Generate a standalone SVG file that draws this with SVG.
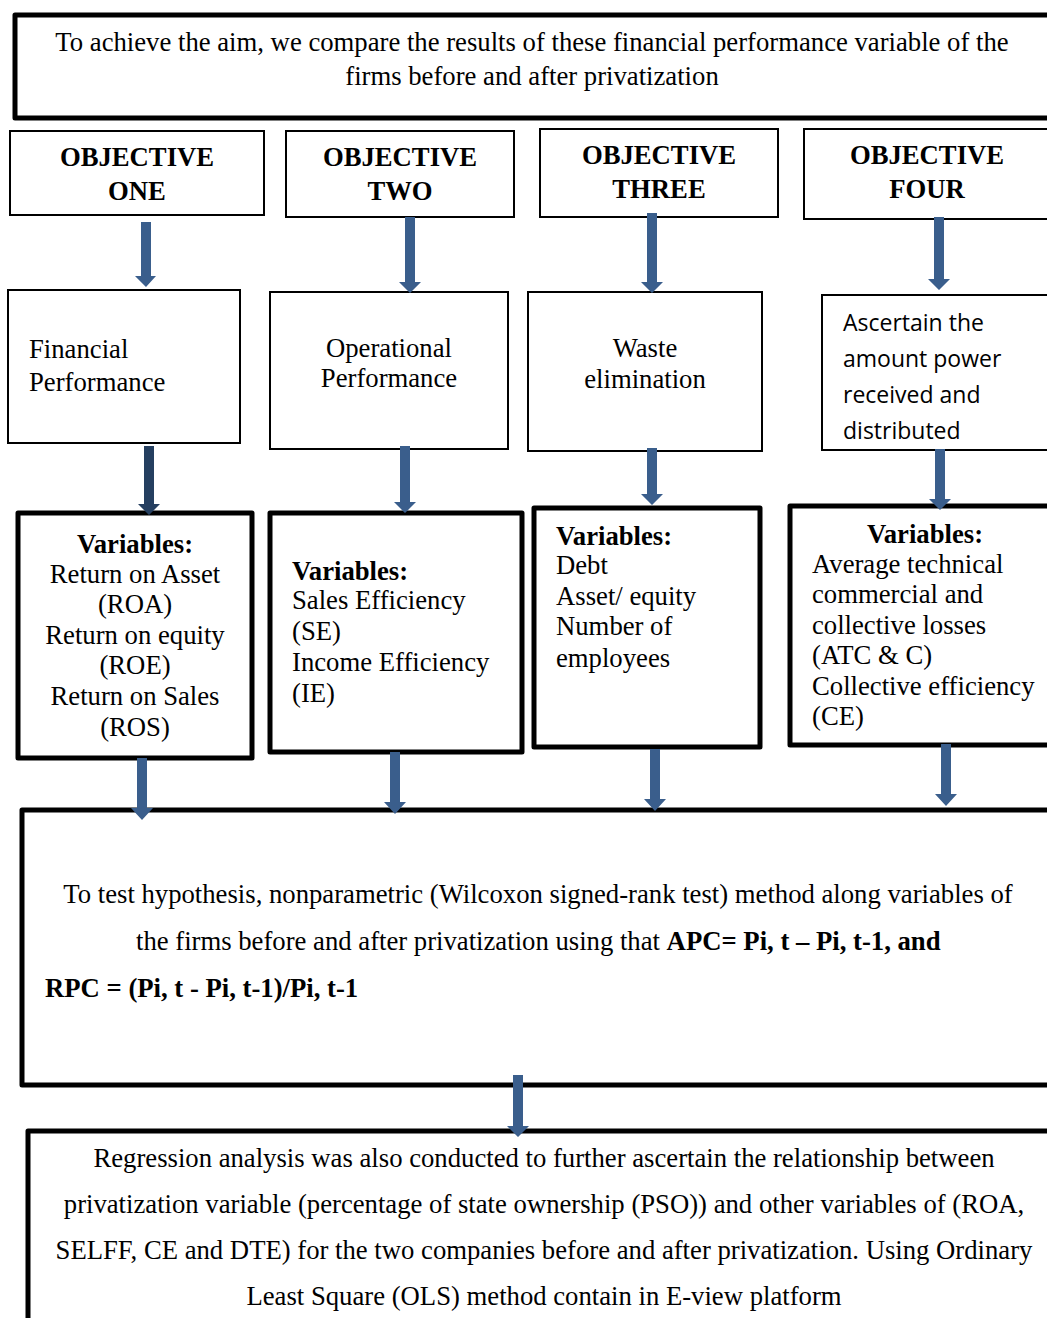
<svg xmlns="http://www.w3.org/2000/svg" width="1047" height="1318" viewBox="0 0 1047 1318">
<style>
  .bg { fill: #ffffff; }
  .thin { fill: #ffffff; stroke: #000000; stroke-width: 2; }
  .thick { fill: #ffffff; stroke: #000000; stroke-width: 5; stroke-linejoin: round; }
  .t { font-family: "Liberation Serif", "Times New Roman", serif; font-size: 26.7px; fill: #000000; }
  .b { font-weight: bold; }
  .s { font-family: "Open Sans", "Noto Sans", "Liberation Sans", sans-serif; font-size: 23px; fill: #000000; }
  .mid { text-anchor: middle; }
  .arrow { fill: #3A5E8C; }
  .arrowDark { fill: #253F60; }
</style>
<rect class="bg" x="0" y="0" width="1047" height="1318"/>

<g id="aim">
  <rect class="thick" x="15" y="15" width="1045" height="103"/>
  <text class="t mid" x="532" y="51">To achieve the aim, we compare the results of these financial performance variable of the</text>
  <text class="t mid" x="532" y="85">firms before and after privatization</text>
</g>

<g id="obj1">
  <rect class="thin" x="10" y="131" width="254" height="84"/>
  <text class="t b mid" x="137" y="166">OBJECTIVE</text>
  <text class="t b mid" x="137" y="200">ONE</text>
</g>
<g id="obj2">
  <rect class="thin" x="286" y="131" width="228" height="86"/>
  <text class="t b mid" x="400" y="166">OBJECTIVE</text>
  <text class="t b mid" x="400" y="200">TWO</text>
</g>
<g id="obj3">
  <rect class="thin" x="540" y="129" width="238" height="88"/>
  <text class="t b mid" x="659" y="164">OBJECTIVE</text>
  <text class="t b mid" x="659" y="198">THREE</text>
</g>
<g id="obj4">
  <rect class="thin" x="804" y="129" width="250" height="90"/>
  <text class="t b mid" x="927" y="164">OBJECTIVE</text>
  <text class="t b mid" x="927" y="198">FOUR</text>
</g>

<g id="financial">
  <rect class="thin" x="8" y="290" width="232" height="153"/>
  <text class="t" x="29" y="358">Financial</text>
  <text class="t" x="29" y="391">Performance</text>
</g>
<g id="operational">
  <rect class="thin" x="270" y="292" width="238" height="157"/>
  <text class="t mid" x="389" y="357">Operational</text>
  <text class="t mid" x="389" y="387">Performance</text>
</g>
<g id="waste">
  <rect class="thin" x="528" y="292" width="234" height="159"/>
  <text class="t mid" x="645" y="357">Waste</text>
  <text class="t mid" x="645" y="388">elimination</text>
</g>
<g id="ascertain">
  <rect class="thin" x="822" y="295" width="232" height="155"/>
  <text class="s" x="843" y="331">Ascertain the</text>
  <text class="s" x="843" y="367">amount power</text>
  <text class="s" x="843" y="403">received and</text>
  <text class="s" x="843" y="439">distributed</text>
</g>

<g id="vars1">
  <rect class="thick" x="18" y="513" width="234" height="245"/>
  <text class="t b mid" x="135" y="553">Variables:</text>
  <text class="t mid" x="135" y="583">Return on Asset</text>
  <text class="t mid" x="135" y="613">(ROA)</text>
  <text class="t mid" x="135" y="644">Return on equity</text>
  <text class="t mid" x="135" y="674">(ROE)</text>
  <text class="t mid" x="135" y="705">Return on Sales</text>
  <text class="t mid" x="135" y="736">(ROS)</text>
</g>
<g id="vars2">
  <rect class="thick" x="270" y="513" width="252" height="239"/>
  <text class="t b" x="292" y="580">Variables:</text>
  <text class="t" x="292" y="609">Sales Efficiency</text>
  <text class="t" x="292" y="640">(SE)</text>
  <text class="t" x="292" y="671">Income Efficiency</text>
  <text class="t" x="292" y="702">(IE)</text>
</g>
<g id="vars3">
  <rect class="thick" x="534" y="508" width="226" height="239"/>
  <text class="t b" x="556" y="545">Variables:</text>
  <text class="t" x="556" y="574">Debt</text>
  <text class="t" x="556" y="605">Asset/ equity</text>
  <text class="t" x="556" y="635">Number of</text>
  <text class="t" x="556" y="667">employees</text>
</g>
<g id="vars4">
  <rect class="thick" x="790" y="506" width="265" height="239"/>
  <text class="t b mid" x="925" y="543">Variables:</text>
  <text class="t" x="812" y="573">Average technical</text>
  <text class="t" x="812" y="603">commercial and</text>
  <text class="t" x="812" y="634">collective losses</text>
  <text class="t" x="812" y="664">(ATC &amp; C)</text>
  <text class="t" x="812" y="695">Collective efficiency</text>
  <text class="t" x="812" y="725">(CE)</text>
</g>

<g id="hypothesis">
  <rect class="thick" x="22" y="810" width="1035" height="275"/>
  <text class="t mid" x="538" y="903">To test hypothesis, nonparametric (Wilcoxon signed-rank test) method along variables of</text>
  <text class="t" x="136" y="950">the firms before and after privatization using that <tspan class="b">APC= Pi, t – Pi, t-1, and</tspan></text>
  <text class="t b" x="45" y="997">RPC = (Pi, t - Pi, t-1)/Pi, t-1</text>
</g>

<g id="regression">
  <rect class="thick" x="28" y="1131" width="1030" height="200"/>
  <text class="t mid" x="544" y="1167">Regression analysis was also conducted to further ascertain the relationship between</text>
  <text class="t mid" x="544" y="1213">privatization variable (percentage of state ownership (PSO)) and other variables of (ROA,</text>
  <text class="t mid" x="544" y="1259">SELFF, CE and DTE) for the two companies before and after privatization. Using Ordinary</text>
  <text class="t mid" x="544" y="1305">Least Square (OLS) method contain in E-view platform</text>
</g>

<g id="connectors">
  <polygon class="arrow" points="141,222 151,222 151,276 156,276 146,287 135,276 141,276"/>
  <polygon class="arrow" points="405,217 415,217 415,282 421,282 410,293 399,282 405,282"/>
  <polygon class="arrow" points="647,213 657,213 657,282 663,282 652,293 641,282 647,282"/>
  <polygon class="arrow" points="934,217 944,217 944,279 950,279 939,290 928,279 934,279"/>

  <polygon class="arrowDark" points="144,446 154,446 154,504 160,504 149,515 138,504 144,504"/>
  <polygon class="arrow" points="400,446 410,446 410,502 416,502 405,513 394,502 400,502"/>
  <polygon class="arrow" points="647,448 657,448 657,494 663,494 652,505 641,494 647,494"/>
  <polygon class="arrow" points="935,449 945,449 945,499 951,499 940,510 929,499 935,499"/>

  <polygon class="arrow" points="137,758 147,758 147,808 153,808 142,820 131,808 137,808"/>
  <polygon class="arrow" points="390,752 400,752 400,802 406,802 395,814 384,802 390,802"/>
  <polygon class="arrow" points="650,749 660,749 660,799 666,799 655,811 644,799 650,799"/>
  <polygon class="arrow" points="941,744 951,744 951,794 957,794 946,806 935,794 941,794"/>

  <polygon class="arrow" points="513,1075 523,1075 523,1126 529,1126 518,1137 507,1126 513,1126"/>
</g>
</svg>
